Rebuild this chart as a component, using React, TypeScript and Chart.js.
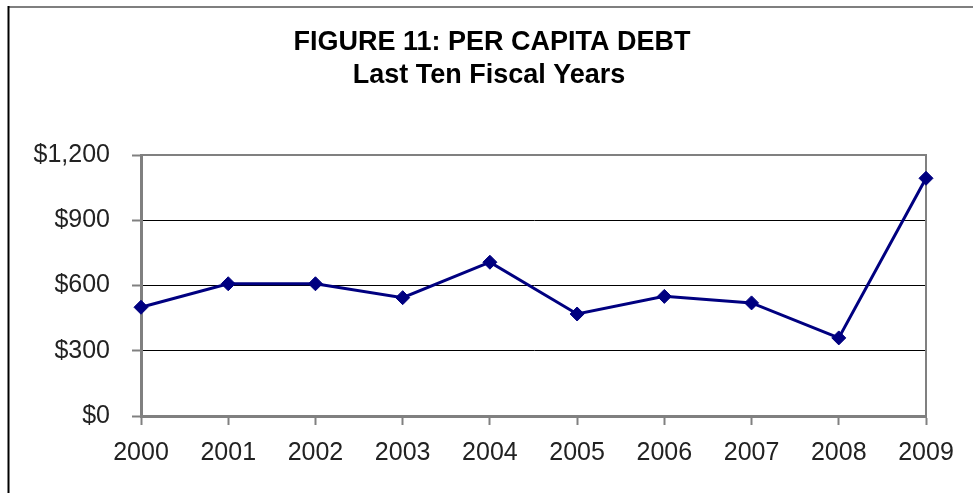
import React, { useEffect, useRef } from "react";
import { Chart, registerables } from "chart.js";

Chart.register(...registerables);

const categories = ["2000", "2001", "2002", "2003", "2004", "2005", "2006", "2007", "2008", "2009"];
const perCapitaDebt = [500, 608, 608, 544, 707, 469, 550, 520, 359, 1093];
const yTicks = [0, 300, 600, 900, 1200];
const titleLines = ["FIGURE 11: PER CAPITA DEBT", "Last Ten Fiscal Years"];

const FONT = "Arial, 'Liberation Sans', sans-serif";

const framePlugin = {
  id: "framePlugin",
  beforeDraw(chart: any) {
    const ctx = chart.ctx;
    ctx.save();
    ctx.fillStyle = "#ffffff";
    ctx.fillRect(0, 0, chart.width, chart.height);
    ctx.strokeStyle = "#7f7f7f";
    ctx.lineWidth = 2;
    ctx.beginPath();
    ctx.moveTo(8, 7);
    ctx.lineTo(chart.width, 7);
    ctx.stroke();
    ctx.strokeStyle = "#000000";
    ctx.beginPath();
    ctx.moveTo(8.5, 6);
    ctx.lineTo(8.5, 493);
    ctx.stroke();
    // title
    ctx.fillStyle = "#000000";
    ctx.font = "bold 27px " + FONT;
    ctx.textAlign = "center";
    ctx.textBaseline = "middle";
    ctx.fillText(titleLines[0], 492, 43);
    ctx.fillText(titleLines[1], 489, 76);
    ctx.restore();
  },
  beforeDatasetsDraw(chart: any) {
    const { ctx, chartArea } = chart;
    ctx.save();
    ctx.strokeStyle = "#808080";
    ctx.lineWidth = 2;
    ctx.beginPath();
    ctx.moveTo(chartArea.left, chartArea.top);
    ctx.lineTo(chartArea.right, chartArea.top);
    ctx.lineTo(chartArea.right, chartArea.bottom);
    ctx.stroke();
    ctx.restore();
  },
};

export default function App() {
  const ref = useRef<HTMLCanvasElement>(null);
  useEffect(() => {
    if (!ref.current) return;
    const chart = new Chart(ref.current, {
      type: "line",
      data: {
        labels: categories,
        datasets: [
          {
            data: perCapitaDebt,
            borderColor: "#000080",
            backgroundColor: "#000080",
            borderWidth: 3,
            pointStyle: "rectRot",
            pointRadius: 7,
            pointBorderWidth: 1,
            pointBackgroundColor: "#000080",
            pointBorderColor: "#000080",
            tension: 0,
          },
        ],
      },
      options: {
        animation: false,
        responsive: false,
        layout: { padding: { top: 155, right: 47, bottom: 0, left: 0 } },
        plugins: {
          legend: { display: false },
          tooltip: { enabled: false },
          title: { display: false },
        },
        scales: {
          x: {
            offset: false,
            grid: { drawOnChartArea: false, tickColor: "#808080", tickLength: 9, tickWidth: 2 },
            border: { color: "#808080", width: 3 },
            ticks: {
              color: "#222222",
              font: { family: FONT, size: 25 },
              padding: 13,
              maxRotation: 0,
              autoSkip: false,
            },
            afterFit(scale: any) {
              scale.height = 81;
            },
          },
          y: {
            min: 0,
            max: 1200,
            afterBuildTicks(scale: any) {
              scale.ticks = yTicks.map((v) => ({ value: v }));
            },
            grid: {
              color: (c: any) => (c.tick && (c.tick.value === 0 || c.tick.value === 1200) ? "rgba(0,0,0,0)" : "#000000"),
              lineWidth: 1,
              tickColor: "#808080",
              tickLength: 9,
              tickWidth: 2,
            },
            border: { color: "#808080", width: 3 },
            ticks: {
              color: "#222222",
              font: { family: FONT, size: 25 },
              padding: 22,
              callback: (v: any) => "$" + Number(v).toLocaleString("en-US"),
            },
            afterFit(scale: any) {
              scale.width = 141;
            },
          },
        },
      },
      plugins: [framePlugin],
    });
    return () => chart.destroy();
  }, []);
  return (
    <div style={{ position: "fixed", left: 0, top: 0, width: 973, height: 497 }}>
      <canvas ref={ref} width={973} height={497} style={{ display: "block" }} />
    </div>
  );
}
